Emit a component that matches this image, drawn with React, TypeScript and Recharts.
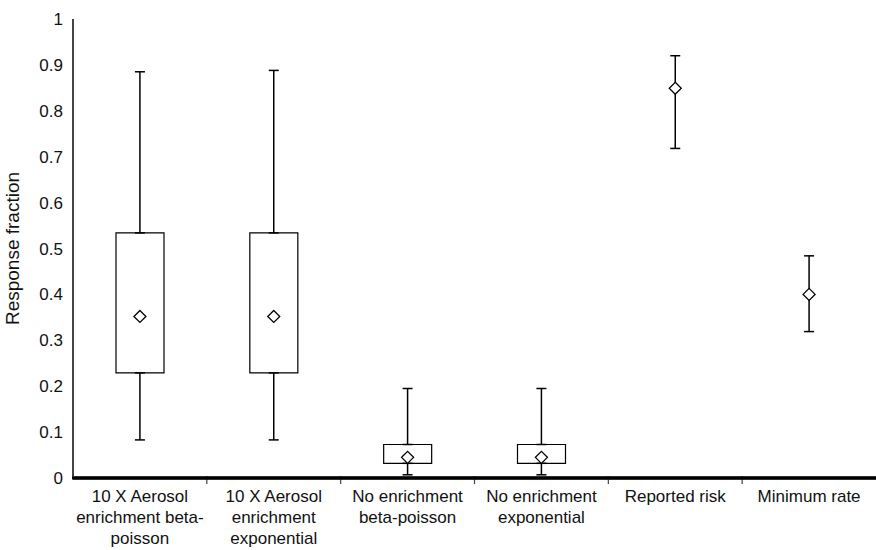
import React from "react";
import {
  ComposedChart,
  Bar,
  Line,
  Scatter,
  ErrorBar,
  XAxis,
  YAxis,
  ReferenceLine,
} from "recharts";

const categories = [
  "10 X Aerosol enrichment beta-poisson",
  "10 X Aerosol enrichment exponential",
  "No enrichment beta-poisson",
  "No enrichment exponential",
  "Reported risk",
  "Minimum rate",
];

// label lines as they wrap in the original figure
const categoryLines = [
  ["10 X Aerosol", "enrichment beta-", "poisson"],
  ["10 X Aerosol", "enrichment", "exponential"],
  ["No enrichment", "beta-poisson"],
  ["No enrichment", "exponential"],
  ["Reported risk"],
  ["Minimum rate"],
];

const whiskerLow = [0.083, 0.083, 0.007, 0.007, 0.718, 0.319];
const boxLow: (number | null)[] = [0.229, 0.229, 0.032, 0.032, null, null];
const boxHigh: (number | null)[] = [0.534, 0.534, 0.073, 0.073, null, null];
const whiskerHigh = [0.885, 0.888, 0.195, 0.195, 0.92, 0.484];
const means = [0.352, 0.352, 0.045, 0.045, 0.849, 0.4];

const yTicks = [0, 0.1, 0.2, 0.3, 0.4, 0.5, 0.6, 0.7, 0.8, 0.9, 1];

const data = categories.map((name, i) => {
  const lo = boxLow[i];
  const hi = boxHigh[i];
  const hasBox = lo != null && hi != null;
  return {
    name,
    box: hasBox ? [lo, hi] : null,
    // upper whisker hangs off the box top (or the mean when there is no box)
    topAnchor: hasBox ? hi : means[i],
    topErr: hasBox
      ? [0, whiskerHigh[i] - (hi as number)]
      : [means[i] - whiskerLow[i], whiskerHigh[i] - means[i]],
    bottomAnchor: hasBox ? lo : null,
    bottomErr: hasBox ? [(lo as number) - whiskerLow[i], 0] : null,
    mean: means[i],
  };
});

const FONT = "'Liberation Sans', Arial, Helvetica, sans-serif";

const Diamond = (props: any) => {
  const { cx, cy } = props;
  if (cx == null || cy == null) return null;
  const r = 6;
  return (
    <polygon
      points={`${cx},${cy - r} ${cx + r},${cy} ${cx},${cy + r} ${cx - r},${cy}`}
      fill="#fff"
      stroke="#000"
      strokeWidth={1.3}
    />
  );
};

// label centred in the band, a small tick mark at the band's right edge,
// and this band's piece of the heavy baseline
const CategoryTick = (props: any) => {
  const { x, y, payload, index } = props;
  const idx = categories.indexOf(payload.value);
  const lines = categoryLines[idx] || [payload.value];
  const half = payload.offset || 0;
  return (
    <g>
      <rect x={x - half - 1} y={y - 1.5} width={2 * half + 2} height={3} fill="#000" />
      {index < categories.length - 1 && (
        <line x1={x + half} x2={x + half} y1={y} y2={y + 6} stroke="#444" strokeWidth={1.2} />
      )}
      <text x={x} y={y} textAnchor="middle" fill="#111" fontSize={17} fontFamily={FONT}>
        {lines.map((l, i) => (
          <tspan key={i} x={x} dy={i === 0 ? 24 : 21}>
            {l}
          </tspan>
        ))}
      </text>
    </g>
  );
};

export default function App() {
  return (
    <div style={{ position: "absolute", left: 0, top: 0, width: 876, height: 550, background: "#fff", fontFamily: FONT }}>
      <ComposedChart
        width={876}
        height={550}
        data={data}
        margin={{ top: 19, right: 0, bottom: 0, left: 0 }}
      >
        <XAxis
          dataKey="name"
          interval={0}
          tickLine={false}
          tickSize={0}
          tickMargin={0}
          height={72}
          stroke="#000"
          axisLine={{ stroke: "#000", strokeWidth: 2.5 }}
          tick={<CategoryTick />}
        />
        <YAxis
          domain={[0, 1]}
          ticks={yTicks}
          interval={0}
          width={73}
          tickLine={false}
          tickSize={0}
          tickMargin={10}
          axisLine={{ stroke: "#444", strokeWidth: 2 }}
          tick={{ fill: "#111", fontSize: 17, fontFamily: FONT }}
          label={{
            value: "Response fraction",
            angle: -90,
            position: "insideLeft",
            offset: 12,
            style: { textAnchor: "middle", fill: "#111", fontSize: 19, fontFamily: FONT },
          }}
        />
        <ReferenceLine y={0} stroke="#000" strokeWidth={3} ifOverflow="visible" />
        <Bar
          dataKey="box"
          barSize={48}
          fill="#fff"
          stroke="#000"
          strokeWidth={1.2}
          isAnimationActive={false}
        />
        <Line
          dataKey="topAnchor"
          stroke="none"
          dot={false}
          activeDot={false}
          isAnimationActive={false}
        >
          <ErrorBar dataKey="topErr" width={5} stroke="#000" strokeWidth={1.5} direction="y" />
        </Line>
        <Line
          dataKey="bottomAnchor"
          stroke="none"
          dot={false}
          activeDot={false}
          isAnimationActive={false}
        >
          <ErrorBar dataKey="bottomErr" width={5} stroke="#000" strokeWidth={1.5} direction="y" />
        </Line>
        <Scatter
          dataKey="mean"
          shape={<Diamond />}
          isAnimationActive={false}
        />
      </ComposedChart>
    </div>
  );
}
